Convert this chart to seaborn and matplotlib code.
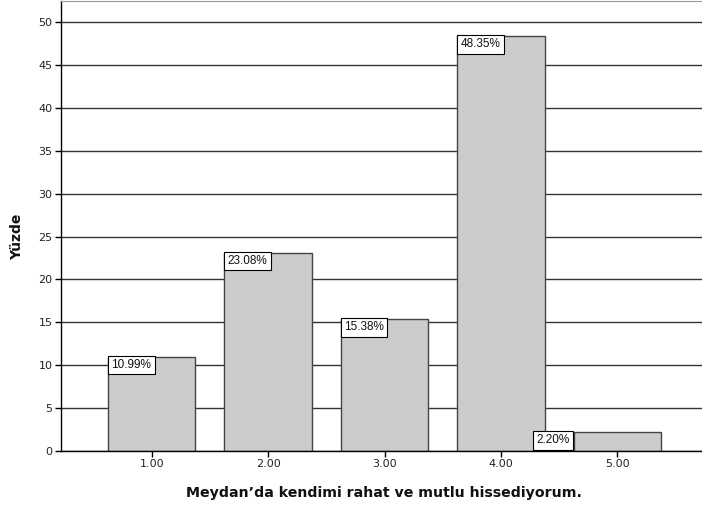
import seaborn as sns
import matplotlib.pyplot as plt
import pandas as pd

# response categories and percentages
categories = ["1.00", "2.00", "3.00", "4.00", "5.00"]
percents = [10.99, 23.08, 15.38, 48.35, 2.20]
xlabel = "Meydan\u2019da kendimi rahat ve mutlu hissediyorum."
ylabel = "Yüzde"

df = pd.DataFrame({"cat": categories, "pct": percents})

sns.set_style("white")
plt.rcParams['font.family'] = ['DejaVu Sans']

fig = plt.figure(figsize=(7.02, 5.08), dpi=100)
ax = fig.add_axes([61/702, 57/508, 647/702, 450/508])

sns.barplot(data=df, x="cat", y="pct", order=categories, color="#cccccc",
            width=0.75, edgecolor="#444444", linewidth=1.0, saturation=1, ax=ax)

ax.set_xlim(-0.78, 4.78)
ax.set_ylim(0, 52.45)
ax.set_yticks(range(0, 51, 5))
ax.yaxis.grid(True, color="#333333", linewidth=1.0)
ax.set_axisbelow(True)

ax.tick_params(axis="both", direction="out", length=4, width=1, color="black",
               labelsize=8, labelcolor="#222222", pad=2, left=True, bottom=True)

for side in ["left", "bottom"]:
    ax.spines[side].set_color("black")
    ax.spines[side].set_linewidth(1.0)
ax.spines["top"].set_color("#999999")
ax.spines["right"].set_visible(False)

ax.set_xlabel(xlabel, fontsize=10.2, fontweight="bold", labelpad=12, color="#111111")
ax.set_ylabel(ylabel, fontsize=10, fontweight="bold", color="#111111")
ax.yaxis.set_label_coords(-0.057, 0.476)

# percent boxes at top-left of each bar
fs = 8.5
pad = 0.28
off = pad * fs
for bar, p in zip(ax.patches, percents):
    x0 = bar.get_x()
    top = bar.get_height()
    label = f"{p:.2f}%"
    box = dict(boxstyle=f"square,pad={pad}", fc="white", ec="black", lw=0.8)
    if p < 5:
        # too short: box sits left of the bar
        ax.annotate(label, (x0, top), xytext=(-off - 0.6, -off + 0.8), textcoords="offset points",
                    ha="right", va="top", fontsize=fs, color="#111111", bbox=box,
                    family="Liberation Sans")
    else:
        ax.annotate(label, (x0, top), xytext=(off, -off + 0.8), textcoords="offset points",
                    ha="left", va="top", fontsize=fs, color="#111111", bbox=box,
                    family="Liberation Sans")

fig.savefig("out.png", dpi=100)
